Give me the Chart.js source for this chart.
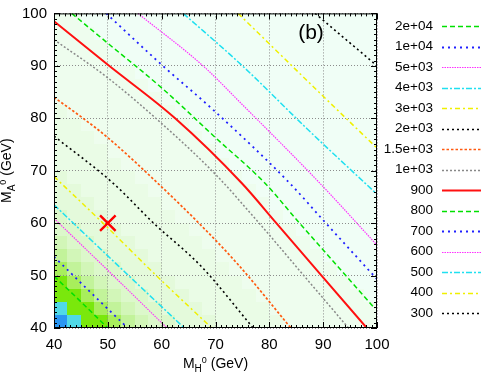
<!DOCTYPE html>
<html>
<head>
<meta charset="utf-8">
<script src="https://cdn.jsdelivr.net/npm/chart.js@4/dist/chart.umd.min.js"></script>
<style>
  html, body { margin: 0; padding: 0; background: #fff; }
</style>
</head>
<body>
<canvas id="grafico" width="481" height="375"></canvas>
<script>
// niveles de contorno (orden de la leyenda)
const niveles = ['2e+04', '1e+04', '5e+03', '4e+03', '3e+03', '2e+03', '1.5e+03', '1e+03',
                 '900', '800', '700', '600', '500', '400', '300'];

// lineas de contorno: x = M_H0, y = M_A0 (GeV)
const c20000x = [40, 45, 50];
const c20000y = [49.9, 45, 40];
const c10000x = [40, 46.8, 53.7];
const c10000y = [53.6, 46.8, 40];
const c5000x = [40, 50.5, 61];
const c5000y = [60.9, 50.5, 40];
const c4000x = [40, 52, 64.2];
const c4000y = [63.5, 51.8, 40];
const c3000x = [40, 49.1, 59, 69.3];
const c3000y = [68.9, 60, 50, 40];
const c2000x = [40, 51, 58.5, 67.4, 77];
const c2000y = [76.6, 67.6, 60, 51.7, 40];
const c1500x = [40, 45.4, 50, 59.7, 67.1, 74.2, 84];
const c1500y = [84, 80, 76.3, 67.2, 59.8, 52.1, 40];
const c1000x = [40, 50, 60, 70, 78.1, 86.4, 94.7];
const c1000y = [95, 87.7, 79, 69.3, 60, 50, 40];
const c900x = [40, 50, 62.5, 74.9, 81.3, 89.7, 98.1];
const c900y = [98.5, 90.2, 80, 67.6, 60, 50, 40];
const c800x = [43.3, 50, 60, 70, 79.2, 85.6, 94.2, 99.6];
const c800y = [100, 94.3, 85.8, 76.3, 67.6, 60, 50, 43.7];
const c700x = [49.7, 60, 70, 83.8, 90.5, 100];
const c700y = [100, 90.2, 81.2, 67.6, 60, 49.3];
const c600x = [55.6, 67.9, 74.6, 89.4, 100];
const c600y = [100, 89.8, 83, 67.6, 55.8];
const c500x = [64, 75, 87, 100];
const c500y = [100, 90, 78, 65.5];
const c400x = [74.2, 80, 90, 100];
const c400y = [100, 94.2, 84.2, 74.3];
const c300x = [88.5, 100];
const c300y = [100, 90];

const contornos = [
  [c20000x, c20000y], [c10000x, c10000y], [c5000x, c5000y], [c4000x, c4000y],
  [c3000x, c3000y], [c2000x, c2000y], [c1500x, c1500y], [c1000x, c1000y],
  [c900x, c900y], [c800x, c800y], [c700x, c700y], [c600x, c600y],
  [c500x, c500y], [c400x, c400y], [c300x, c300y]
];

// punto marcado con la X
const marcaX = [50];
const marcaY = [60];

// mapa de fondo: celdas de 2.5 GeV, fila 0 = M_A0 40..42.5, cada caracter un nivel de color
const bordesCelda = [40, 42.5, 45, 47.5, 50, 52.5, 55, 57.5, 60, 62.5, 65, 67.5, 70,
                     72.5, 75, 77.5, 80, 82.5, 85, 87.5, 90, 92.5, 95, 97.5, 100];
const mapa = [
  '012234566777888889999999',
  '122345667778888899999999',
  '22345667778888899999999a',
  '2345667778888899999999aa',
  '345667778888899999999aaa',
  '45667778888899999999aaaa',
  '5667778888899999999aaaaa',
  '667778888899999999aaaaaa',
  '67778888899999999aaaaaaa',
  '7778888899999999aaaaaaaa',
  '778888899999999aaaaaaaaa',
  '78888899999999aaaaaaaaaa',
  '8888899999999aaaaaaaaaaa',
  '888899999999aaaaaaaaaaaa',
  '88899999999aaaaaaaaaaaaa',
  '8899999999aaaaaaaaaaaaaa',
  '899999999aaaaaaaaaaaaaaa',
  '99999999aaaaaaaaaaaaaaaa',
  '9999999aaaaaaaaaaaaaaaaa',
  '999999aaaaaaaaaaaaaaaaaa',
  '99999aaaaaaaaaaaaaaaaaaa',
  '9999aaaaaaaaaaaaaaaaaaaa',
  '999aaaaaaaaaaaaaaaaaaaaa',
  '99aaaaaaaaaaaaaaaaaaaaaa'
];

// estilos
const mapaColores = {
  '0': '#2a96f2', '1': '#50d9e6', '2': '#7ae80c', '3': '#a8ee5c', '4': '#c2f39a',
  '5': '#d2f6b8', '6': '#dcf8cb', '7': '#e4fadb', '8': '#eafce6', '9': '#eefdee', 'a': '#f0fef6'
};
const colores = ['#00e000', '#2020ff', '#ff30ff', '#20e0f0', '#f0f000', '#000000', '#ff5a10', '#888888',
                 '#ff1010', '#00e000', '#2020ff', '#ff30ff', '#20e0f0', '#f0f000', '#000000'];
const trazos = [[5, 3], [2, 4], [1.5, 1], [6, 2, 2, 2], [5, 3, 2, 3], [2, 3], [2.5, 2], [2, 2],
                [], [5, 3], [2, 4], [1.5, 1], [6, 2, 2, 2], [5, 3, 2, 3], [2, 3]];
const anchos = [1.5, 1.8, 1.2, 1.5, 1.5, 1.6, 1.7, 1.5, 2, 1.5, 1.8, 1.2, 1.5, 1.5, 1.6];

const fuente = '"Liberation Sans", Arial, Helvetica, sans-serif';

const datos = contornos.map((c, i) => ({
  label: niveles[i],
  data: c[0].map((x, k) => ({ x: x, y: c[1][k] })),
  showLine: true,
  borderColor: colores[i],
  backgroundColor: colores[i],
  borderDash: trazos[i],
  borderWidth: anchos[i],
  pointRadius: 0,
  fill: false,
  cubicInterpolationMode: 'monotone'
}));
datos.push({
  label: 'X',
  data: marcaX.map((x, k) => ({ x: x, y: marcaY[k] })),
  showLine: false,
  pointStyle: 'crossRot',
  pointRadius: 11,
  borderColor: '#ff0000',
  borderWidth: 2.4,
  esMarca: true
});

// fondo con el mapa de colores (antes de la rejilla)
const fondo = {
  id: 'fondo',
  beforeDraw(chart) {
    const c = chart.ctx;
    const sx = chart.scales.x, sy = chart.scales.y;
    c.save();
    c.fillStyle = '#fff';
    c.fillRect(0, 0, chart.width, chart.height);
    mapa.forEach((fila, j) => {
      const y0 = Math.round(sy.getPixelForValue(bordesCelda[j]));
      const y1 = Math.round(sy.getPixelForValue(bordesCelda[j + 1]));
      for (let i = 0; i < fila.length; i++) {
        const x0 = Math.round(sx.getPixelForValue(bordesCelda[i]));
        const x1 = Math.round(sx.getPixelForValue(bordesCelda[i + 1]));
        c.fillStyle = mapaColores[fila[i]];
        c.fillRect(x0, y1, x1 - x0, y0 - y1);
      }
    });
    c.restore();
  }
};

// marco, marcas hacia dentro, titulos, leyenda y (b)
const adornos = {
  id: 'adornos',
  afterDraw(chart) {
    const c = chart.ctx;
    const sx = chart.scales.x, sy = chart.scales.y;
    const { left, right, top, bottom } = chart.chartArea;
    c.save();
    c.strokeStyle = '#000';
    c.lineWidth = 1;
    c.setLineDash([]);
    c.beginPath();
    for (let v = 40; v <= 100; v++) {
      const largo = v % 10 === 0 ? 6 : 3;
      const px = Math.round(sx.getPixelForValue(v)) + 0.5;
      c.moveTo(px, bottom); c.lineTo(px, bottom - largo);
      c.moveTo(px, top); c.lineTo(px, top + largo);
      const py = Math.round(sy.getPixelForValue(v)) + 0.5;
      c.moveTo(left, py); c.lineTo(left + largo, py);
      c.moveTo(right, py); c.lineTo(right - largo, py);
    }
    c.stroke();
    c.strokeRect(left + 0.5, top + 0.5, right - left - 1, bottom - top - 1);

    // titulo eje x: M_{H^0} (GeV)
    c.fillStyle = '#000';
    c.textBaseline = 'alphabetic';
    c.textAlign = 'left';
    const piezasX = [['M', 14, 0], ['H', 10, 4], ['0', 9, -5], [' (GeV)', 14, 0]];
    const piezasY = [['M', 14, 0], ['A', 10, 4], ['0', 9, -5], [' (GeV)', 14, 0]];
    const ancho = (piezas) => piezas.reduce((s, p) => {
      c.font = p[1] + 'px ' + fuente;
      return s + c.measureText(p[0]).width;
    }, 0);
    let x = (left + right) / 2 - ancho(piezasX) / 2;
    piezasX.forEach((p) => {
      c.font = p[1] + 'px ' + fuente;
      c.fillText(p[0], x, 368 + p[2]);
      x += c.measureText(p[0]).width;
    });
    c.save();
    c.translate(11, (top + bottom) / 2);
    c.rotate(-Math.PI / 2);
    x = -ancho(piezasY) / 2;
    piezasY.forEach((p) => {
      c.font = p[1] + 'px ' + fuente;
      c.fillText(p[0], x, p[2]);
      x += c.measureText(p[0]).width;
    });
    c.restore();

    // (b)
    c.font = '21px ' + fuente;
    c.textAlign = 'center';
    c.textBaseline = 'middle';
    c.fillText('(b)', 311, 33);

    // leyenda a la derecha
    c.font = '13.5px ' + fuente;
    c.textAlign = 'right';
    c.textBaseline = 'middle';
    let fila = 0;
    chart.data.datasets.forEach((ds) => {
      if (ds.esMarca) return;
      const yy = 26 + fila * 20.5;
      c.fillStyle = '#000';
      c.fillText(ds.label, 433, yy);
      c.strokeStyle = ds.borderColor;
      c.lineWidth = ds.borderWidth;
      c.setLineDash(ds.borderDash);
      c.beginPath();
      c.moveTo(442, Math.round(yy) + 0.5);
      c.lineTo(481, Math.round(yy) + 0.5);
      c.stroke();
      fila++;
    });
    c.restore();
  }
};

const miGrafica = new Chart(document.getElementById('grafico'), {
  type: 'scatter',
  data: { datasets: datos },
  options: {
    responsive: false,
    animation: false,
    devicePixelRatio: 1,
    layout: { padding: { top: 6, right: 104, left: 0, bottom: 0 } },
    plugins: { legend: { display: false }, tooltip: { enabled: false } },
    scales: {
      x: {
        type: 'linear', min: 40, max: 100,
        ticks: { stepSize: 10, color: '#000', padding: 8, font: { size: 15, family: fuente } },
        grid: { color: '#8c8c8c', lineWidth: 1, drawTicks: false },
        border: { display: false, dash: [1, 2] },
        afterFit(s) { s.height = 47; s.paddingLeft = 0; s.paddingRight = 0; }
      },
      y: {
        type: 'linear', min: 40, max: 100,
        ticks: { stepSize: 10, color: '#000', padding: 7, font: { size: 15, family: fuente } },
        grid: { color: '#8c8c8c', lineWidth: 1, drawTicks: false },
        border: { display: false, dash: [1, 2] },
        afterFit(s) { s.width = 54; s.paddingTop = 0; s.paddingBottom = 0; }
      }
    }
  },
  plugins: [fondo, adornos]
});
</script>
</body>
</html>
